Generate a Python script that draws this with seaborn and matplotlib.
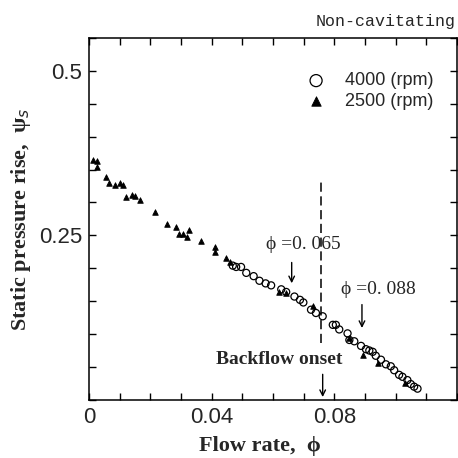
import numpy as np
import pandas as pd
import matplotlib
matplotlib.use("Agg")
import matplotlib.pyplot as plt
import seaborn as sns

# dados
phi_2500 = [0.0014, 0.0025, 0.0028, 0.0055, 0.0065, 0.0085, 0.0103, 0.0112, 0.0122, 0.0139,
            0.0150, 0.0166, 0.0215, 0.0256, 0.0285, 0.0294, 0.0307, 0.0321, 0.0326, 0.0364,
            0.0410, 0.0410, 0.0448, 0.0459, 0.0621, 0.0643, 0.0730, 0.0849, 0.0892, 0.0941, 0.1030]
psi_2500 = [0.365, 0.363, 0.354, 0.338, 0.329, 0.327, 0.329, 0.326, 0.309, 0.312,
            0.310, 0.304, 0.285, 0.268, 0.263, 0.252, 0.252, 0.248, 0.258, 0.241,
            0.233, 0.224, 0.216, 0.210, 0.164, 0.162, 0.143, 0.094, 0.068, 0.056, 0.025]

phi_4000 = [0.0469, 0.0480, 0.0496, 0.0513, 0.0537, 0.0556, 0.0576, 0.0594, 0.0627, 0.0643,
            0.0670, 0.0688, 0.0699, 0.0724, 0.0740, 0.0762, 0.0795, 0.0805, 0.0816, 0.0843,
            0.0849, 0.0865, 0.0887, 0.0903, 0.0914, 0.0925, 0.0935, 0.0952, 0.0968, 0.0984,
            0.0995, 0.1011, 0.1022, 0.1038, 0.1049, 0.1060, 0.1071]
psi_4000 = [0.204, 0.202, 0.202, 0.193, 0.188, 0.181, 0.177, 0.174, 0.168, 0.164,
            0.157, 0.152, 0.148, 0.137, 0.132, 0.127, 0.114, 0.114, 0.107, 0.101,
            0.091, 0.089, 0.082, 0.077, 0.075, 0.073, 0.067, 0.061, 0.054, 0.051,
            0.045, 0.038, 0.035, 0.030, 0.024, 0.020, 0.017]

x_ticks = [0, 0.04, 0.08]
x_tick_labels = ["0", "0.04", "0.08"]
y_ticks = [0.25, 0.5]
y_tick_labels = ["0.25", "0.5"]

phi_backflow = 0.0757

df1 = pd.DataFrame({"phi": phi_4000, "psi": psi_4000})
df2 = pd.DataFrame({"phi": phi_2500, "psi": psi_2500})

sns.set_style("ticks")
plt.rcParams['font.family'] = ['Liberation Sans', 'DejaVu Sans']

fig = plt.figure(figsize=(4.58, 4.58), dpi=100)
ax = fig.add_axes([0.194, 0.127, 0.804, 0.79])

sns.scatterplot(data=df2, x="phi", y="psi", marker="^", s=16, color="black",
                edgecolor="black", linewidth=0.6, ax=ax, label="2500 (rpm)", zorder=3)
sns.scatterplot(data=df1, x="phi", y="psi", marker="o", s=26, facecolor="none",
                edgecolor="black", linewidth=0.9, ax=ax, label="4000 (rpm)", zorder=4)

ax.set_xlim(0, 0.12)
ax.set_ylim(0, 0.55)

# ticks para dentro em todos os lados
ax.set_xticks(np.arange(0, 0.121, 0.01), minor=True)
ax.set_yticks(np.arange(0, 0.551, 0.05), minor=True)
ax.set_xticks(x_ticks)
ax.set_xticklabels(x_tick_labels)
ax.set_yticks(y_ticks)
ax.set_yticklabels(y_tick_labels)
ax.tick_params(which="both", direction="in", top=True, right=True, color="black",
               length=5, width=1)
ax.tick_params(which="major", labelsize=16, pad=5)
for s in ax.spines.values():
    s.set_color("black")
    s.set_linewidth(1.1)

ax.set_xlabel("Flow rate,  \u03d5", fontsize=16, fontweight="bold", family="Liberation Serif")
ax.set_ylabel("Static pressure rise,  \u03c8$_s$", fontsize=16, fontweight="bold",
              family="Liberation Serif")
ax.xaxis.set_label_coords(0.465, -0.10)
ax.yaxis.set_label_coords(-0.153, 0.5)

# linha de inicio do backflow
ax.plot([phi_backflow, phi_backflow], [0.086, 0.334], color="black", lw=1.1,
        linestyle=(0, (6, 3)), zorder=2)
ax.annotate("", xy=(0.0762, 0.0), xytext=(0.0762, 0.043),
            arrowprops=dict(arrowstyle="->", color="black", lw=1))
ax.text(0.062, 0.0617, "Backflow onset", ha="center", va="center", fontsize=14,
        fontweight="bold", family="Liberation Serif")

ax.annotate("", xy=(0.0661, 0.173), xytext=(0.0661, 0.213),
            arrowprops=dict(arrowstyle="->", color="black", lw=1))
ax.text(0.070, 0.236, "\u03d5 =0. 065", ha="center", va="center", fontsize=14,
        family="Liberation Serif")
ax.annotate("", xy=(0.0890, 0.105), xytext=(0.0890, 0.149),
            arrowprops=dict(arrowstyle="->", color="black", lw=1))
ax.text(0.0943, 0.167, "\u03d5 =0. 088", ha="center", va="center", fontsize=14,
        family="Liberation Serif")

fig.text(0.995, 0.954, "Non-cavitating", ha="right", va="center", fontsize=12,
         family="Liberation Mono")

h, l = ax.get_legend_handles_labels()
leg = ax.legend(h[::-1], l[::-1], loc="upper right", bbox_to_anchor=(0.98, 0.95),
                frameon=False, fontsize=13, markerscale=1.7, handletextpad=0.6,
                labelspacing=0.2)

fig.savefig("out.png", dpi=100)
